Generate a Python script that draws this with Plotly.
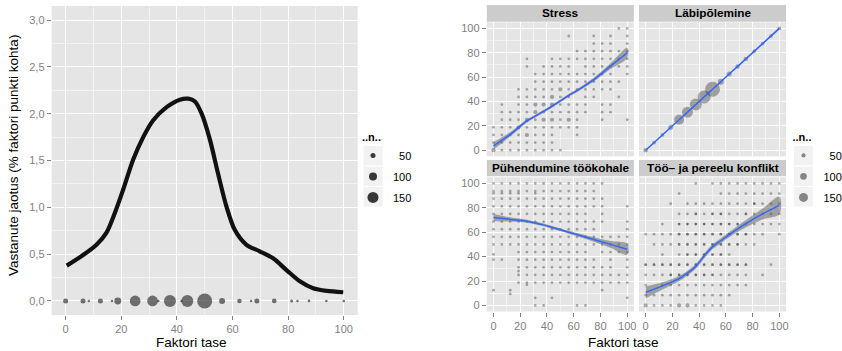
import plotly.graph_objects as go

# ---------------- data ----------------
# Left panel: density curve (x in %, y in % per factor point)
dens_x = [0.4, 6.3, 11.1, 14.7, 17.7, 20.7, 24.3, 27.9, 31.5, 36.3, 41.1, 44.1, 46.5,
          48.9, 51.9, 54.8, 57.8, 60.8, 65.0, 69.8, 74.6, 79.4, 84.2, 89.0, 93.8, 99.8]
dens_y = [0.377, 0.49, 0.60, 0.73, 0.94, 1.19, 1.51, 1.75, 1.93, 2.07, 2.15, 2.16, 2.13,
          2.00, 1.72, 1.36, 1.01, 0.76, 0.60, 0.53, 0.455, 0.33, 0.21, 0.135, 0.107, 0.093]

# Left panel: counts of respondents at each factor level (drawn at y = 0)
lvl_x = [0, 6.25, 8.33, 12.5, 16.67, 18.75, 25, 31.25, 33.33, 37.5, 41.67, 43.75, 50,
         56.25, 62.5, 66.67, 68.75, 75, 81.25, 83.33, 87.5, 93.75, 100]
lvl_n = [50, 50, 8, 50, 8, 83, 145, 145, 8, 167, 8, 167, 217,
         67, 42, 8, 50, 45, 17, 8, 12, 10, 10]

legend_vals = [50, 100, 150]
legend_text = ["\u200750", "100", "150"]

# Right panel facets
facet_names = ["Stress", "Läbipõlemine", "Pühendumine töökohale", "Töö\u2013 ja pereelu konflikt"]

# point clouds: one string per x level (x = i/16*100); tokens = y level,
# suffix b = larger count, d = heavily overplotted
stress_cols = ["0b 1 2 3", "0 1 2 3 4 5 6", "0 1 2 3 4 5", "0 1 2 3b 4 5 6 7 8",
               "0 1 2b 3 4b 5 6 7 8 11 12", "0 1 2 3 4 5b 6b 7 8 9 10",
               "0 1 2 3 4b 5 6b 7 8 9 10 11", "0 1 2 3 4b 5 6b 7b 8 9 10 11 12",
               "0 3 4 5 6 7 8b 9 10 11 12", "3 4b 5 6 7 8 9 10 11 12 15",
               "2 3 4 5 6 8 9 10 12 13", "5 6 7 8 9 10 11 12 13",
               "7 8 9 10 11 12 13 14 15", "4 5 6 8 9 10 11 12 13 14",
               "5 6 8 9 10 11 12 13 14 15", "7 9 11 12 13 16", "4 10 11 12 13 14 15 16"]
stress_ystep = 100 / 16

burnout_n = [55, 40, 40, 67, 171, 192, 212, 233, 275, 88, 67, 55, 55, 40, 40, 40, 40]

commit_cols = ["16 15 14.7 14 13 12 11 10 9 8 6.7 6 2", "16 15 14.7 14 13 12 11 10 9 8 6",
               "16 15 14.7 14 13 12 11 10 9 8 2 1.5",
               "16 15 14.7 14 13 12 11 10 9 8 7 6 5 4.5 4 3",
               "16 15 14 13 12 11 10 9 8 7 6 5 4 3 2.7",
               "16 15 14.7 14 13 12 11 10 9 8 7 6 5 4 3 1 0",
               "16 15 14 13 12 11 10 9 8 7 6 5 4 3 0",
               "16 15 14 13 12 11 10 9 8 7 6 5 4 3 1",
               "16 15 14 13 12 11 10 9 8 7 6 5 4 3",
               "16 15 14 13 12 11 10 9 8 7 6 5 4 3",
               "16 15 14 13 12 11 10 9 8 7 6 5 4 3 0",
               "16 15 14 13 12 11 10 9 8 7 6 5 4 3 0",
               "16 15 14 13 11 10 9 8 6 5 4 3", "16 14 13 12 11 9 8 7 5 4 3 2",
               "9 8 7 6 5 4 3", "9 8 7 4 3", "13 11 10 9 8 7 6 5 4 3 1"]
commit_ystep = 100 / 16

conflict_cols = ["0b 1 2 3 4d 7", "0 1 3 4d 6 7", "0 1 2 3 4d 5 6 7 8", "0 1 2 3d 4d 6 7 10",
                 "0b 1 2 3d 4d 5 6d 7d 8d 9 11", "0b 1 2 3d 4d 5d 6d 7d 8d 9 10",
                 "0 1 2 3d 4d 5d 6d 7d 8d 9d 10 12", "0 1 2 3d 4d 5d 6d 7d 8d 9 10",
                 "0 1 2 3d 4d 5d 6d 7d 8d 9d 10 12", "0 1 2 3 4d 5d 6d 7d 8d 9d 10 11 12",
                 "1 2 3 4d 5 6d 7d 8d 9 10 11 12", "2 3 4d 6d 7d 8d 9 10 11 12",
                 "2 3 4d 6 7d 8 9d 10 11 12", "6 7 8 9 10d 11 12", "3 7 8 9 10 11 12",
                 "4 8 9 10 11 12", "7 8 9 10 11 12"]
conflict_ystep = 100 / 12

# loess fits (fit and half-width of the confidence band)
smooth_x = [0, 12.5, 25, 31.25, 37.5, 43.75, 50, 56.25, 62.5, 75, 87.5, 100]
stress_fit = [3.5, 13, 24, 28, 32, 36, 40.5, 45, 49, 58, 69, 80]
stress_se = [3, 1.8, 1.2, 1.1, 1.1, 1.1, 1.1, 1.1, 1.2, 1.5, 2.3, 4]
burnout_fit = [0, 12.5, 25, 31.25, 37.5, 43.75, 50, 56.25, 62.5, 75, 87.5, 100]
burnout_se = [0.4, 0.3, 0.3, 0.3, 0.3, 0.3, 0.3, 0.3, 0.3, 0.3, 0.3, 0.4]
commit_fit = [72, 70.5, 69, 67.5, 66, 64, 62, 60, 58, 54, 50, 46]
commit_se = [3, 1.8, 1.3, 1.2, 1.1, 1.1, 1.1, 1.2, 1.3, 1.8, 2.8, 4.5]
conflict_fit = [10.7, 16, 22, 26.5, 32, 40.5, 48, 53, 58, 67, 75, 82]
conflict_se = [5, 3, 2.2, 2, 2, 2, 2, 2, 2.2, 3, 4.5, 7]

# ---------------- helpers ----------------
W, H = 842, 351
FONT = "Liberation Sans, Arial, sans-serif"
GRID = "white"
MINOR = "#f2f2f2"
TICKC = "#7f7f7f"
PT_RIGHT = "rgba(0,0,0,0.45)"
PT_DARK = "rgba(0,0,0,0.75)"


def px(a):
    return a / W


def py(b):
    return 1 - b / H


def size_left(n):
    return 2 + 0.06 * n


def size_right(n):
    return 1.8 + 0.048 * n


def expand(cols, ystep):
    xs, ys, ns, dk = [], [], [], []
    for i, col in enumerate(cols):
        for tok in col.split():
            lev = float(tok.rstrip("bd"))
            xs.append(i * 100 / 16)
            ys.append(lev * ystep)
            ns.append(50 if "b" in tok else 20)
            dk.append("d" in tok)
    return xs, ys, ns, dk


fig = go.Figure()

# ---------------- left panel ----------------
fig.add_trace(go.Scatter(x=dens_x, y=dens_y, mode="lines",
                         line=dict(color="#111111", width=4.2, shape="spline", smoothing=0.8),
                         showlegend=False, hoverinfo="skip", xaxis="x", yaxis="y"))
fig.add_trace(go.Scatter(x=lvl_x, y=[0] * len(lvl_x), mode="markers",
                         marker=dict(size=[size_left(n) for n in lvl_n], color="rgba(40,40,40,0.92)",
                                     line=dict(width=0)),
                         showlegend=False, xaxis="x", yaxis="y"))
for v, t in zip(legend_vals, legend_text):
    fig.add_trace(go.Scatter(x=[None], y=[None], mode="markers", name=t,
                             marker=dict(size=size_left(v), color="rgba(40,40,40,0.92)", line=dict(width=0)),
                             legend="legend", legendgroup="L" + t, showlegend=True, xaxis="x", yaxis="y"))

# ---------------- right facets ----------------
facets = [
    (expand(stress_cols, stress_ystep), stress_fit, stress_se),
    (([i * 100 / 16 for i in range(17)], [i * 100 / 16 for i in range(17)], burnout_n, [False] * 17),
     burnout_fit, burnout_se),
    (expand(commit_cols, commit_ystep), commit_fit, commit_se),
    (expand(conflict_cols, conflict_ystep), conflict_fit, conflict_se),
]
for k, ((xs, ys, ns, dk), fit, se) in enumerate(facets):
    xa, ya = "x%d" % (k + 2), "y%d" % (k + 2)
    cols = [PT_DARK if d else PT_RIGHT for d in dk]
    fig.add_trace(go.Scatter(x=xs, y=ys, mode="markers",
                             marker=dict(size=[size_right(n) for n in ns], color=cols, line=dict(width=0)),
                             showlegend=False, xaxis=xa, yaxis=ya))
    up = [f + s for f, s in zip(fit, se)]
    lo = [f - s for f, s in zip(fit, se)]
    fig.add_trace(go.Scatter(x=smooth_x + smooth_x[::-1], y=up + lo[::-1], fill="toself", mode="lines",
                             line=dict(width=0, shape="spline"), fillcolor="rgba(90,90,90,0.5)",
                             showlegend=False, hoverinfo="skip", xaxis=xa, yaxis=ya))
    fig.add_trace(go.Scatter(x=smooth_x, y=fit, mode="lines", line=dict(color="#3366FF", width=1.5, shape="spline"),
                             showlegend=False, hoverinfo="skip", xaxis=xa, yaxis=ya))

for v, t in zip(legend_vals, legend_text):
    fig.add_trace(go.Scatter(x=[None], y=[None], mode="markers", name=t,
                             marker=dict(size=size_right(v), color=PT_RIGHT, line=dict(width=0)),
                             legend="legend2", legendgroup="R" + t, showlegend=True, xaxis="x2", yaxis="y2"))


def axis(dom, rng, dtick, minor, show_labels, ticks, anchor, fmt=None):
    d = dict(domain=dom, range=rng, tick0=0, dtick=dtick, showgrid=True, gridcolor=GRID, gridwidth=1.1,
             zeroline=False, showline=False, ticks=ticks, ticklen=4, tickwidth=1, tickcolor=TICKC,
             showticklabels=show_labels, tickfont=dict(size=11, color=TICKC, family=FONT),
             minor=dict(dtick=minor, tick0=0, showgrid=True, gridcolor=MINOR, gridwidth=0.5, ticks=""),
             anchor=anchor, fixedrange=True, automargin=False)
    if fmt:
        d["tickformat"] = fmt
    return d


col1 = [px(486.8), px(633.9)]
col2 = [px(639), px(786)]
row1 = [py(156.3), py(22.3)]
row2 = [py(311.5), py(177.3)]

leg_common = dict(xanchor="left", yanchor="top", bgcolor="rgba(0,0,0,0)", indentation=-7,
                  itemsizing="trace", tracegroupgap=2, font=dict(size=11, family=FONT, color="#000000"),
                  title=dict(text="<b>..n..</b>", font=dict(size=11, family=FONT, color="#000000")))

layout = dict(
    template="none",
    width=W, height=H, margin=dict(l=0, r=0, t=0, b=0, autoexpand=False),
    paper_bgcolor="white", plot_bgcolor="#e5e5e5",
    separators=", ", hovermode=False,
    font=dict(family=FONT, size=11, color="#000000"),
    xaxis=axis([px(51.7), px(357.7)], [-5, 105], 20, 10, True, "outside", "y"),
    yaxis=axis([py(315), py(6)], [-0.15, 3.15], 0.5, 0.25, True, "outside", "x", ".1f"),
    xaxis2=axis(col1, [-5, 105], 20, 10, False, "", "y2"),
    yaxis2=axis(row1, [-5, 105], 20, 10, True, "outside", "x2"),
    xaxis3=axis(col2, [-5, 105], 20, 10, False, "", "y3"),
    yaxis3=axis(row1, [-5, 105], 20, 10, False, "", "x3"),
    xaxis4=axis(col1, [-5, 105], 20, 10, True, "outside", "y4"),
    yaxis4=axis(row2, [-5, 105], 20, 10, True, "outside", "x4"),
    xaxis5=axis(col2, [-5, 105], 20, 10, True, "outside", "y5"),
    yaxis5=axis(row2, [-5, 105], 20, 10, False, "", "x5"),
    legend=dict(x=px(360), y=py(126.6), **leg_common),
    legend2=dict(x=px(790.5), y=py(126.6), **leg_common),
)

shapes = []
annotations = []
# facet strips
strips = [(col1, [py(21.7), py(5)]), (col2, [py(21.7), py(5)]),
          (col1, [py(176.3), py(160)]), (col2, [py(176.3), py(160)])]
for name, (cx, cy) in zip(facet_names, strips):
    shapes.append(dict(type="rect", xref="paper", yref="paper", x0=cx[0], x1=cx[1], y0=cy[0], y1=cy[1],
                       fillcolor="#cccccc", line=dict(width=0), layer="below"))
    annotations.append(dict(text="<b>%s</b>" % name, xref="paper", yref="paper", x=(cx[0] + cx[1]) / 2,
                            y=(cy[0] + cy[1]) / 2, showarrow=False, xanchor="center", yanchor="middle",
                            font=dict(size=11.8, family=FONT, color="black")))
# legend key backgrounds
for lx in (363, 793.5):
    for top in (145.5, 166, 186.5):
        shapes.append(dict(type="rect", xref="paper", yref="paper", x0=px(lx), x1=px(lx + 20),
                           y0=py(top + 20.5), y1=py(top), fillcolor="#f2f2f2",
                           line=dict(color="white", width=1), layer="below"))
# axis titles
for cx in (191.5, 623):
    annotations.append(dict(text="Faktori tase", xref="paper", yref="paper", x=px(cx), y=py(342),
                            showarrow=False, xanchor="center", yanchor="middle",
                            font=dict(size=13.5, family=FONT, color="black")))
annotations.append(dict(text="Vastanute jaotus (% faktori punkti kohta)", xref="paper", yref="paper",
                        x=px(13), y=py(156), textangle=-90, showarrow=False, xanchor="center",
                        yanchor="middle", font=dict(size=13.5, family=FONT, color="black")))

layout["shapes"] = shapes
layout["annotations"] = annotations
fig.update_layout(**layout)
fig.write_html("out.html", config={"displayModeBar": False},
               post_script="document.body.style.margin='0';document.body.style.padding='0';")
